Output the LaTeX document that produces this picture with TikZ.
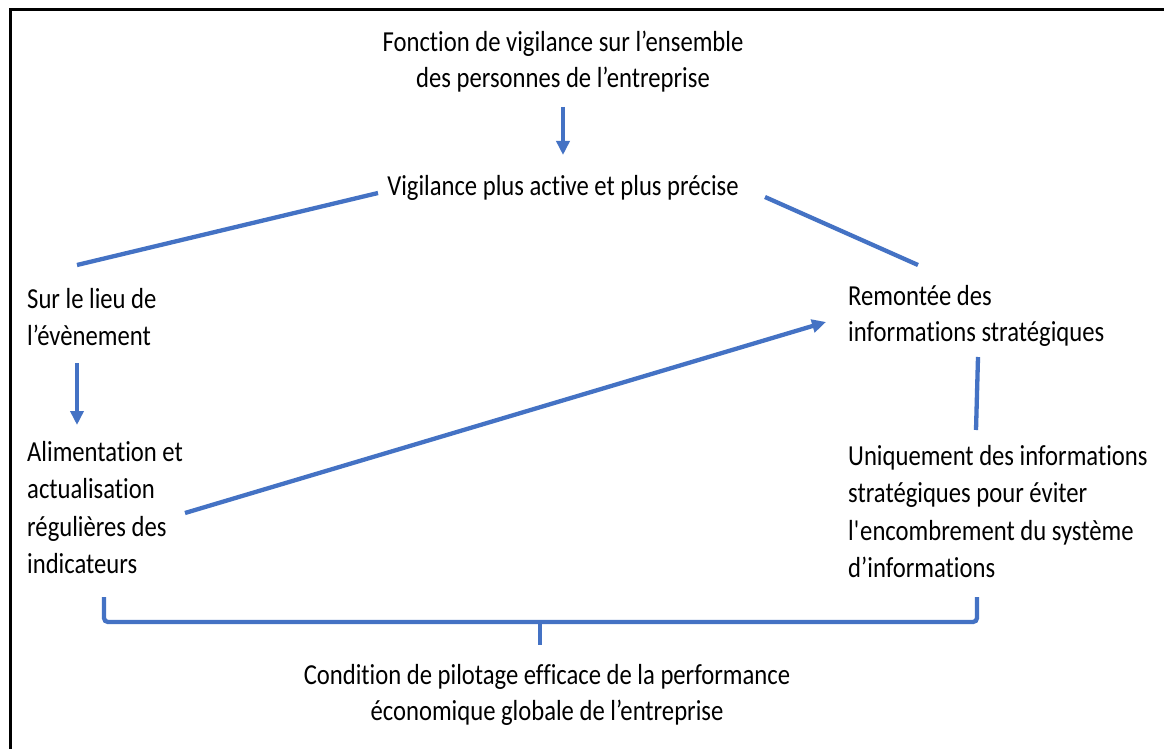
\documentclass[tikz,border=0pt]{standalone}
\usepackage{fontspec}
\setmainfont{Carlito}[FakeStretch=0.85,Ligatures={NoCommon}]
\usetikzlibrary{arrows.meta}
\definecolor{ob}{HTML}{4472C4}
\begin{document}
\begin{tikzpicture}[x=1pt,y=-1pt,
  txt/.style={font=\fontsize{29}{36}\selectfont, inner sep=0pt, align=left},
  txtw/.style={font=\fontsize{29}{37.5}\selectfont, inner sep=0pt, align=left},
  conn/.style={draw=ob, line width=4.3pt},
  arr/.style={conn, -{Triangle[length=14pt,width=13pt]}}]
\useasboundingbox (0,0) rectangle (1164,749);
\fill[white] (0,0) rectangle (1164,749);
\draw[line width=3pt] (10,10) rectangle (1200,800);

\node[txt, align=center, anchor=north] (top) at (563,31) {Fonction de vigilance sur l’ensemble\\des personnes de l’entreprise};
\node[txt, anchor=north] (vig) at (563,175) {Vigilance plus active et plus précise};
\node[txtw, anchor=north west] (sur) at (27,288) {Sur le lieu de\\l’évènement};
\node[txtw, anchor=north west] (ali) at (27,441) {Alimentation et\\actualisation\\régulières des\\indicateurs};
\node[txt, anchor=north west] (rem) at (848,285) {Remontée des\\informations stratégiques};
\node[txtw, anchor=north west] (uni) at (848,445) {Uniquement des informations\\stratégiques pour éviter\\l\textquotesingle encombrement du système\\d’informations};
\node[txt, align=center, anchor=north] (cond) at (547,664) {Condition de pilotage efficace de la performance\\économique globale de l’entreprise};

\coordinate (a1s) at (563,107);
\coordinate (a1e) at (563,155);
\coordinate (lls) at (378,193);
\coordinate (lle) at (77,265);
\coordinate (lrs) at (765,197);
\coordinate (lre) at (918,265);
\coordinate (a2s) at (77,363);
\coordinate (a2e) at (77,425);
\coordinate (a3s) at (185,513);
\coordinate (a3e) at (826,322);
\coordinate (vrs) at (978,357);
\coordinate (vre) at (976,430);
\coordinate (bl) at (104,597);
\coordinate (br) at (977,597);
\coordinate (bm) at (540,622);
\coordinate (bt) at (540,645);

\draw[arr] (a1s) -- (a1e);
\draw[conn] (lls) -- (lle);
\draw[conn] (lrs) -- (lre);
\draw[arr] (a2s) -- (a2e);
\draw[arr] (a3s) -- (a3e);
\draw[conn] (vrs) -- (vre);
\draw[conn, rounded corners=4pt] (bl) |- (bm) -| (br);
\draw[conn] (bm) -- (bt);
\end{tikzpicture}
\end{document}
